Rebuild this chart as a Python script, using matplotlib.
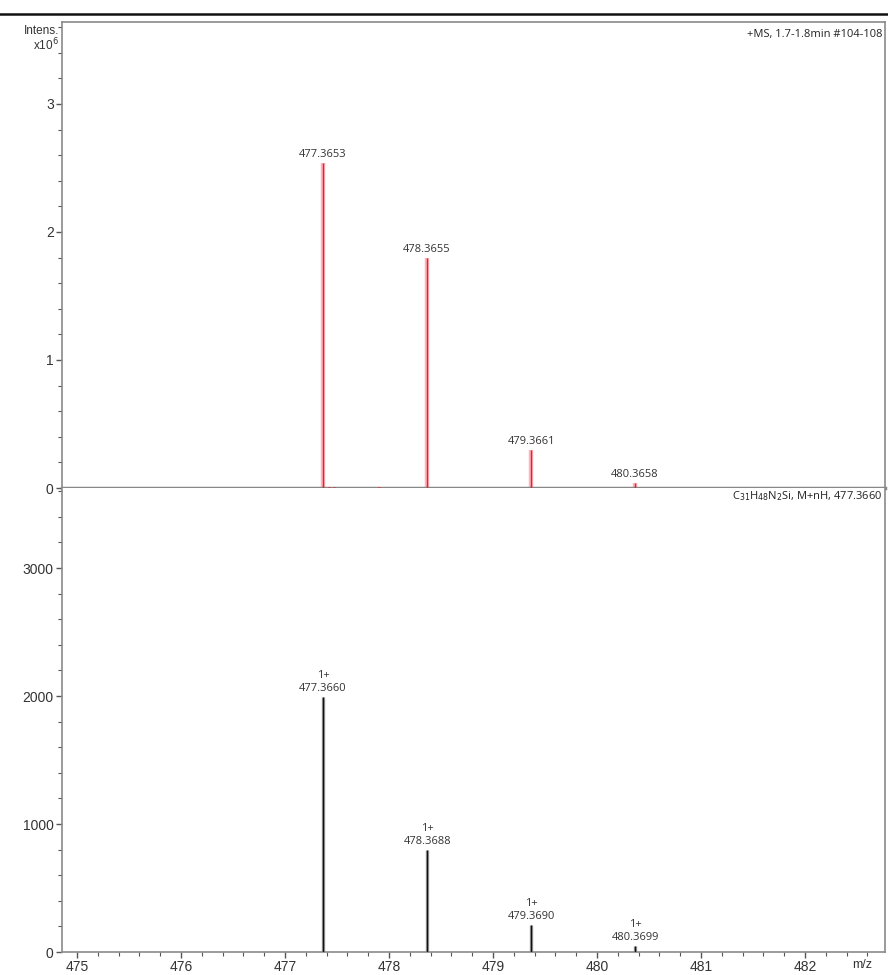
import matplotlib
matplotlib.use("Agg")
import matplotlib.pyplot as plt
from matplotlib.ticker import MultipleLocator
from matplotlib.lines import Line2D

# ---- data ----
meas_mz = [477.3653, 478.3655, 479.3661, 480.3658]
meas_int = [2.54, 1.80, 0.30, 0.04]          # x10^6
meas_labels = ["477.3653", "478.3655", "479.3661", "480.3658"]
noise_mz = [477.42, 477.47, 477.90]
noise_int = [0.008, 0.005, 0.008]

sim_mz = [477.3660, 478.3688, 479.3690, 480.3699]
sim_int = [1995, 795, 212, 45]
sim_labels = ["1+\n477.3660", "1+\n478.3688", "1+\n479.3690", "1+\n480.3699"]

x_ticks = [475, 476, 477, 478, 479, 480, 481, 482]
top_yticks = [0, 1, 2, 3]
bot_yticks = [0, 1000, 2000, 3000]

W, H = 888, 975
fig = plt.figure(figsize=(W / 100, H / 100), dpi=100)

def fx(px):
    return px / W

def fy(py):
    return 1 - py / H

left, right = 62, 885
ax1 = fig.add_axes([fx(left), fy(488), fx(right - left), fy(22) - fy(488)])
ax2 = fig.add_axes([fx(left), fy(952), fx(right - left), fy(488) - fy(952)])

xmin = 475 - 15 / 104
xmax = 475 + (885 - 77) / 104
tick_color = "#555555"
spine_color = "#8a8a8a"
lab_font = "Liberation Sans"
ann_font = "Open Sans"

for ax in (ax1, ax2):
    ax.set_xlim(xmin, xmax)
    for s in ax.spines.values():
        s.set_color(spine_color)
        s.set_linewidth(1.2)
    ax.tick_params(axis="y", which="major", direction="out", length=4, width=1,
                   color=tick_color, labelsize=10, labelcolor="#333333", pad=2)
    ax.tick_params(axis="y", which="minor", direction="out", length=3, width=0.8,
                   color=tick_color)

# ---- top panel ----
ax1.set_ylim(0, 3.64)
ax1.set_yticks(top_yticks)
ax1.set_yticklabels([str(v) for v in top_yticks], fontfamily=lab_font)
ax1.yaxis.set_minor_locator(MultipleLocator(0.2))
ax1.set_xticks([])
ax1.spines["bottom"].set_linewidth(2.5)
ax1.spines["bottom"].set_color("#888888")
ax1.vlines(meas_mz, 0, meas_int, color="#ffb3bb", linewidth=3.2, zorder=2)
ax1.vlines(meas_mz, 0, meas_int, color="#e8202f", linewidth=1.0, zorder=3)
ax1.vlines(noise_mz, 0, noise_int, color="#e8202f", linewidth=2, zorder=3)
for m, v, s in zip(meas_mz, meas_int, meas_labels):
    ax1.annotate(s, (m, v), xytext=(0, 2), textcoords="offset points",
                 ha="center", va="bottom", fontsize=8, color="#333333",
                 fontfamily=ann_font)
ax1.text(0.997, 0.985, "+MS, 1.7-1.8min #104-108", transform=ax1.transAxes,
         ha="right", va="top", fontsize=8, color="#222222", fontfamily=ann_font)

# ---- bottom panel ----
ax2.set_ylim(0, 3625)
ax2.set_yticks(bot_yticks)
ax2.set_yticklabels([str(v) for v in bot_yticks], fontfamily=lab_font)
ax2.yaxis.set_minor_locator(MultipleLocator(200))
ax2.spines["top"].set_visible(False)
ax2.set_xticks(x_ticks)
ax2.set_xticklabels([str(v) for v in x_ticks], fontfamily=lab_font)
ax2.xaxis.set_minor_locator(MultipleLocator(0.2))
ax2.tick_params(axis="x", which="major", direction="out", length=4, width=1,
                color=tick_color, labelsize=10, labelcolor="#333333", pad=2)
ax2.tick_params(axis="x", which="minor", direction="out", length=3, width=0.8,
                color=tick_color)
ax2.vlines(sim_mz, 0, sim_int, color="#a0a0a0", linewidth=2.4, zorder=2)
ax2.vlines(sim_mz, 0, sim_int, color="#111111", linewidth=1.0, zorder=3)
for m, v, s in zip(sim_mz, sim_int, sim_labels):
    ax2.annotate(s, (m, v), xytext=(0, 2), textcoords="offset points",
                 ha="center", va="bottom", fontsize=8, color="#333333",
                 fontfamily=ann_font, linespacing=1.25, multialignment="center")
ax2.text(0.997, 0.997, r"C$_{31}$H$_{48}$N$_{2}$Si, M+nH, 477.3660",
         transform=ax2.transAxes, ha="right", va="top", fontsize=8,
         color="#222222", fontfamily=ann_font)

# ---- labels outside axes ----
fig.text(fx(59), fy(31), "Intens.", ha="right", va="center", fontsize=8.5,
         color="#333333", fontfamily=lab_font)
fig.text(fx(59), fy(45), r"x10$^6$", ha="right", va="center", fontsize=8.5,
         color="#333333", fontfamily=lab_font)
fig.text(fx(862), fy(965), "m/z", ha="center", va="center", fontsize=9,
         color="#333333", fontfamily=lab_font)

# top rule
fig.add_artist(Line2D([0, 1], [fy(14), fy(14)], transform=fig.transFigure,
                      color="#111111", linewidth=1.8))

fig.savefig("out.png", dpi=100)
